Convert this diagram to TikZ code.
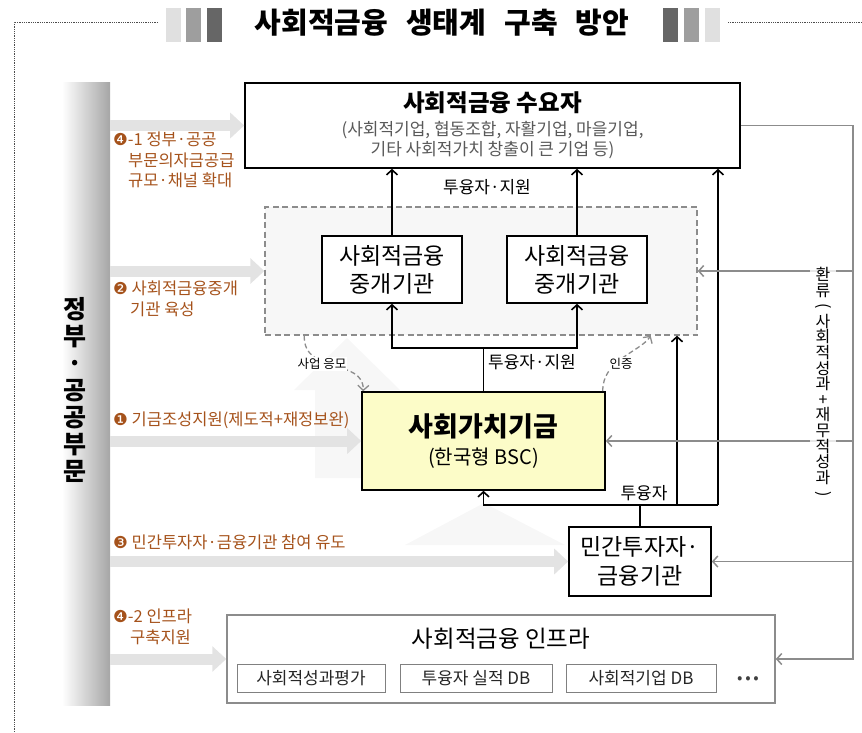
\documentclass[tikz,border=0pt]{standalone}
\usepackage{fontspec}
\setmainfont{Noto Sans CJK KR}
\newfontfamily\dingfont{DejaVu Sans}
\usepackage{graphicx}
\usepackage{tikz}
\usetikzlibrary{arrows.meta}
\usetikzlibrary{positioning}
\definecolor{rust}{HTML}{A5521B}
\definecolor{fundyellow}{HTML}{FCFCC8}

\begin{document}
\begin{tikzpicture}[
            x=1pt, y=-1pt,
            every node/.style={inner sep=2pt},
            box/.style={rectangle, draw=black, line width=1.6pt, fill=white},
            gray box/.style={rectangle, draw=black!45, line width=1.5pt, fill=white},
            db box/.style={rectangle, draw=black!50, line width=0.8pt, minimum height=28pt, font=\fontsize{17}{20}\selectfont, text=black!85},
            step text/.style={anchor=west, align=left, text=rust, font=\fontsize{16.5}{20.5}\selectfont},
            small text/.style={font=\fontsize{17}{20}\selectfont},
            fat arrow/.style={draw=black!11, line width=11pt, -{Triangle[length=14pt,width=25pt]}},
            flow/.style={draw=black, line width=1.6pt, ->},
            back flow/.style={draw=black!45, line width=1.5pt, ->},
            hint/.style={draw=black!45, line width=1.3pt, dash pattern=on 5pt off 3pt, ->}
        ]
        \tikzset{>={Straight Barb[length=5pt,width=11pt]}}
        \useasboundingbox (0,0) rectangle (862,732);

        % title and frame
        \draw[black!70, densely dotted, line width=0.8pt] (158,22) -- (14,22) -- (14,732);
        \draw[black!70, densely dotted, line width=0.8pt] (728,22) -- (862,22);
        \foreach \x/\c in {166/12,186/38,207/60,663/60,684/38,705/12}
            \fill[black!\c] (\x,8) rectangle ++(15,34);
        \node[font=\bfseries\fontsize{29}{32}\selectfont] (title) at (442,23) {사회적금융\hspace{18pt}생태계\hspace{18pt}구축\hspace{18pt}방안};

        % faint background arrows
        \fill[black!3] (347,338) -- (400,390) -- (380,390) -- (380,478) -- (315,478) -- (315,390) -- (294,390) -- cycle;
        \fill[black!3] (484,503) -- (565,545) -- (405,545) -- cycle;

        % government column
        \node[left color=white, right color=black!35, minimum width=48pt, minimum height=623pt] (gov node) at (86,393.5) {};
        \node[font=\bfseries\fontsize{25}{27}\selectfont, align=center] (gov label) at (75,390) {정\\부\\·\\공\\공\\부\\문};

        % main boxes
        \node[box, minimum width=495pt, minimum height=85pt, align=center, font=\fontsize{17}{20}\selectfont] (demand node) at (492.5,125.5)
            {{\bfseries\fontsize{23.5}{26}\selectfont 사회적금융 수요자}\\[4pt]\textcolor{black!65}{(사회적기업, 협동조합, 자활기업, 마을기업,}\\\textcolor{black!65}{기타 사회적가치 창출이 큰 기업 등)}};
        \node[rectangle, draw=black!45, dash pattern=on 6pt off 3.5pt, line width=1.4pt, fill=black!3, minimum width=432pt, minimum height=128pt] (broker zone) at (481,271) {};
        \node[box, minimum width=140pt, minimum height=67pt, align=center, font=\fontsize{23}{28}\selectfont] (broker a) at (392,269.5) {사회적금융\\중개기관};
        \node[box, minimum width=140pt, minimum height=67pt, align=center, font=\fontsize{23}{28}\selectfont] (broker b) at (577,269.5) {사회적금융\\중개기관};
        \node[box, fill=fundyellow, minimum width=243pt, minimum height=98pt, align=center, font=\fontsize{20}{26}\selectfont] (fund node) at (483.5,441)
            {{\bfseries\fontsize{27}{30}\selectfont 사회가치기금}\\[2pt](한국형 BSC)};
        \node[box, minimum width=142pt, minimum height=69pt, align=center, font=\fontsize{23}{29}\selectfont] (private node) at (640,561.5) {민간투자자·\\금융기관};

        % infrastructure
        \node[gray box, minimum width=548pt, minimum height=88pt] (infra node) at (501,659) {};
        \node[font=\fontsize{23.5}{26}\selectfont] (infra title) at (501,639) {사회적금융 인프라};
        \node[db box, minimum width=148pt] (eval db) at (311,678) {사회적성과평가};
        \node[db box, minimum width=152pt] (loan db) at (476,678) {투융자 실적 DB};
        \node[db box, minimum width=150pt] (firm db) at (641,678) {사회적기업 DB};
        \node[font=\fontsize{16}{18}\selectfont, text=black!75] (more) at (748,680) {•\,•\,•};

        % policy arrows
        \draw[fat arrow] (gov node.east |- demand node.west) -- (demand node.west);
        \draw[fat arrow] (gov node.east |- broker zone.west) -- (broker zone.west);
        \draw[fat arrow] (gov node.east |- fund node.west) -- (fund node.west);
        \draw[fat arrow] (gov node.east |- private node.west) -- (private node.west);
        \draw[fat arrow] (gov node.east |- infra node.west) -- (infra node.west);
        \node[step text] (step41) at (111,160) {{\dingfont ❹}-1 정부·공공\\\hspace*{15pt}부문의자금공급\\\hspace*{15pt}규모·채널 확대};
        \node[step text] (step2) at (111,299) {{\dingfont ❷} 사회적금융중개\\\hspace*{17pt}기관 육성};
        \node[step text] (step1) at (111,420) {{\dingfont ❶} 기금조성지원(제도적+재정보완)};
        \node[step text] (step3) at (111,542) {{\dingfont ❸} 민간투자자·금융기관 참여 유도};
        \node[step text] (step42) at (111,627) {{\dingfont ❹}-2 인프라\\\hspace*{17pt}구축지원};

        % money flows
        \draw[flow] (broker a) -- (broker a |- demand node.south);
        \draw[flow] (broker b) -- (broker b |- demand node.south);
        \node[small text] (upper label) at (487,187) {투융자·지원};
        \coordinate (fork) at (483.5,348);
        \draw[line width=1.6pt] (fund node.north) -- (fork);
        \draw[flow] (fork) -| (broker a);
        \draw[flow] (fork) -| (broker b);
        \node[small text] (middle label) at (532,362) {투융자·지원};
        \coordinate (bus) at (640,505);
        \coordinate (mid riser) at (677,505);
        \coordinate (right riser) at (718,505);
        \draw[line width=1.6pt] (private node) -- (bus);
        \draw[flow] (right riser) -| (fund node);
        \draw[flow] (mid riser) -- (mid riser |- broker zone.south);
        \draw[flow] (right riser) -- (right riser |- demand node.south);
        \node[small text] (lower label) at (644,493) {투융자};

        % application and certification
        \draw[hint] ([xshift=40pt]broker zone.south west) .. controls (303,375) and (364,358) .. ([xshift=2pt]fund node.north west);
        \node[font=\fontsize{12.5}{14}\selectfont, fill=white, inner sep=1pt] (apply label) at (322,364) {사업 응모};
        \draw[hint] ([xshift=-3pt]fund node.north east) .. controls (602,360) and (640,352) .. ([xshift=-47pt]broker zone.south east);
        \node[font=\fontsize{12.5}{14}\selectfont, fill=white, inner sep=1pt] (cert label) at (621,364) {인증};

        % feedback
        \coordinate (feedback) at (853,0);
        \draw[back flow] (demand node.east) -| (feedback |- infra node.east) -- (infra node.east);
        \draw[back flow] (feedback |- broker zone.east) -- (broker zone.east);
        \draw[back flow] (feedback |- fund node.east) -- (fund node.east);
        \draw[back flow] (feedback |- private node.east) -- (private node.east);
        \node[fill=white, fill opacity=0.8, text opacity=1, align=center, inner xsep=5pt, font=\fontsize{16}{15.6}\selectfont] (loop label) at (823,383)
            {환\\류\\\rotatebox[origin=c]{-90}{(}\\사\\회\\적\\성\\과\\+\\재\\무\\적\\성\\과\\\rotatebox[origin=c]{-90}{)}};
    \end{tikzpicture}
\end{document}
